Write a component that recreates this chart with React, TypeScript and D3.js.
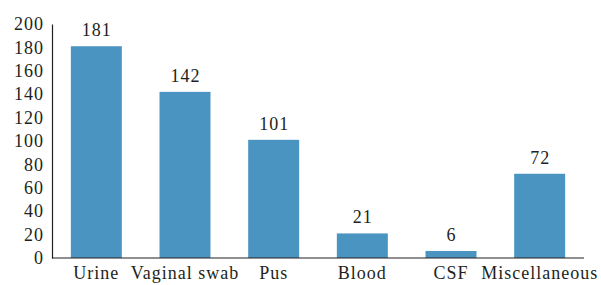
import { useRef, useEffect } from 'react';
import * as d3 from 'd3';

const CATEGORIES = ['Urine', 'Vaginal swab', 'Pus', 'Blood', 'CSF', 'Miscellaneous'];
const VALUES = [181, 142, 101, 21, 6, 72];
const Y_TICKS = [0, 20, 40, 60, 80, 100, 120, 140, 160, 180, 200];

const VW = 601, VH = 285;
const M = { top: 24, right: 17, bottom: 27, left: 52 };
const BAR = '#4a94c1';
const INK = '#231f20';
const FONT = "'Liberation Serif', 'DejaVu Serif', serif";
const FS = 18;

export default function App() {
  const svgRef = useRef<SVGSVGElement>(null);

  useEffect(() => {
    const svg = d3.select(svgRef.current);
    svg.selectAll('*').remove();

    const x = d3.scaleBand<string>().domain(CATEGORIES)
      .range([M.left, VW - M.right]).paddingInner(0.425).paddingOuter(0.2125);
    const y = d3.scaleLinear().domain([0, 200]).range([VH - M.bottom, M.top]);

    // bars
    svg.append('g').selectAll('rect').data(VALUES).join('rect')
      .attr('x', (_, i) => x(CATEGORIES[i])!)
      .attr('y', d => y(d))
      .attr('width', x.bandwidth())
      .attr('height', d => y(0) - y(d))
      .attr('fill', BAR);

    // value labels (Minion-like width via a touch of letter spacing)
    svg.append('g').selectAll('text').data(VALUES).join('text')
      .attr('x', (_, i) => x(CATEGORIES[i])! + x.bandwidth() / 2 + 0.5)
      .attr('y', d => y(d) - 10)
      .attr('text-anchor', 'middle')
      .style('font-family', FONT).style('font-size', `${FS}px`).style('letter-spacing', '1px')
      .attr('fill', INK)
      .text(d => d);

    // y axis
    const yAxis = svg.append('g').attr('transform', `translate(${M.left},0)`)
      .call(d3.axisLeft(y).tickValues(Y_TICKS).tickSize(0).tickPadding(8));
    yAxis.select('.domain').attr('stroke', INK).attr('stroke-width', 1.2);
    yAxis.selectAll('text').style('font-family', FONT).style('font-size', `${FS}px`)
      .style('letter-spacing', '1px').attr('fill', INK);

    // x axis
    const xAxis = svg.append('g').attr('transform', `translate(0,${y(0)})`)
      .call(d3.axisBottom(x).tickSize(0).tickPadding(8));
    xAxis.select('.domain').attr('stroke', INK).attr('stroke-width', 1.2)
      .attr('d', `M${M.left},0H${VW - M.right}`);
    xAxis.selectAll('text').style('font-family', FONT).style('font-size', `${FS}px`)
      .style('letter-spacing', '1px').attr('fill', INK);
  }, []);

  return (
    <svg ref={svgRef} width={VW} height={VH} viewBox={`0 0 ${VW} ${VH}`}
      style={{ position: 'absolute', left: 0, top: 0, background: '#fff' }} />
  );
}
